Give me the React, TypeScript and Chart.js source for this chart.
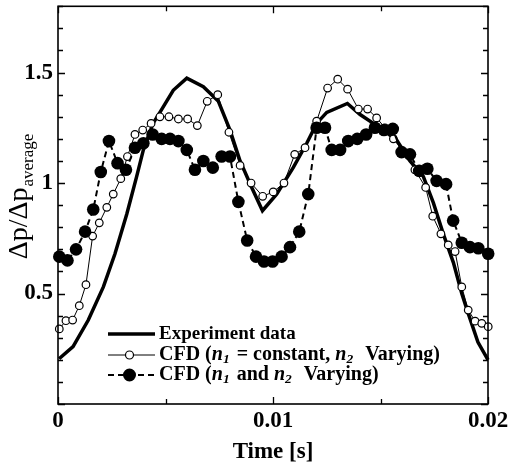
import React, { useEffect, useRef } from 'react';
import { Chart, registerables } from 'chart.js';

Chart.register(...registerables);

// ---- Data ----
const expTime = [0.00005, 0.0007, 0.00141, 0.00211, 0.00265, 0.0032, 0.00366, 0.00397, 0.00442, 0.00474, 0.00536, 0.00599, 0.00676, 0.00746, 0.008, 0.00847, 0.00901, 0.00951, 0.01017, 0.01094, 0.01157, 0.01203, 0.0125, 0.01346, 0.01405, 0.01498, 0.01575, 0.01637, 0.01699, 0.01746, 0.01792, 0.01839, 0.01878, 0.01908, 0.01953, 0.02];
const expValue = [0.205, 0.26, 0.38, 0.53, 0.68, 0.86, 1.03, 1.15, 1.27, 1.32, 1.42, 1.475, 1.436, 1.37, 1.24, 1.1, 0.98, 0.875, 0.95, 1.07, 1.18, 1.27, 1.32, 1.36, 1.31, 1.25, 1.195, 1.1, 1.03, 0.91, 0.77, 0.64, 0.5, 0.41, 0.28, 0.2];

const cfdConstTime = [0.00006, 0.00037, 0.00068, 0.00099, 0.0013, 0.00161, 0.00192, 0.00227, 0.00257, 0.00292, 0.00323, 0.00358, 0.00394, 0.00433, 0.00474, 0.00516, 0.0056, 0.00603, 0.00648, 0.00694, 0.00743, 0.00795, 0.00847, 0.00898, 0.00952, 0.01001, 0.01051, 0.01101, 0.01149, 0.01203, 0.01254, 0.01301, 0.01347, 0.01397, 0.0144, 0.01482, 0.01521, 0.0156, 0.01609, 0.0166, 0.0171, 0.01743, 0.01781, 0.01815, 0.01847, 0.01878, 0.01908, 0.0194, 0.01971, 0.02001];
const cfdConstValue = [0.34, 0.377, 0.38, 0.445, 0.54, 0.76, 0.82, 0.89, 0.95, 1.02, 1.12, 1.22, 1.24, 1.27, 1.3, 1.3, 1.29, 1.29, 1.26, 1.37, 1.4, 1.23, 1.08, 1.0, 0.94, 0.96, 1.0, 1.13, 1.16, 1.28, 1.43, 1.47, 1.425, 1.335, 1.335, 1.295, 1.25, 1.2, 1.14, 1.06, 0.98, 0.85, 0.77, 0.72, 0.69, 0.53, 0.425, 0.375, 0.365, 0.35];

const cfdVarTime = [0.00006, 0.00044, 0.00084, 0.00126, 0.00164, 0.00199, 0.00237, 0.00277, 0.00316, 0.00358, 0.00397, 0.0044, 0.00482, 0.00521, 0.0056, 0.00599, 0.00637, 0.00676, 0.0072, 0.00761, 0.008, 0.00839, 0.0088, 0.00921, 0.00958, 0.00998, 0.0104, 0.01079, 0.01122, 0.01164, 0.01203, 0.01242, 0.01273, 0.01312, 0.0135, 0.01392, 0.01433, 0.01474, 0.01516, 0.01557, 0.01598, 0.01637, 0.0168, 0.01718, 0.01761, 0.01805, 0.01838, 0.01878, 0.01916, 0.01955, 0.02001];
const cfdVarValue = [0.667, 0.65, 0.7, 0.78, 0.88, 1.05, 1.19, 1.09, 1.06, 1.16, 1.18, 1.22, 1.2, 1.2, 1.19, 1.15, 1.06, 1.1, 1.07, 1.12, 1.12, 0.915, 0.74, 0.667, 0.645, 0.645, 0.667, 0.71, 0.78, 0.95, 1.25, 1.25, 1.15, 1.15, 1.19, 1.2, 1.22, 1.25, 1.24, 1.245, 1.14, 1.13, 1.055, 1.065, 1.01, 0.995, 0.83, 0.73, 0.71, 0.705, 0.68];

const xTickLabels = ['0', '0.01', '0.02'];
const yTickLabels = ['0.5', '1', '1.5'];
const seriesLabels = ['Experiment data', 'CFD (n1 = constant, n2  Varying)', 'CFD (n1 and n2  Varying)'];
const xTitle = 'Time [s]';

const SERIF = '"Liberation Serif", "Times New Roman", serif';

const toPoints = (t: number[], v: number[]) => t.map((x, i) => ({ x, y: v[i] }));

const findLabel = (labels: string[], v: number) => {
  for (const l of labels) {
    if (Math.abs(parseFloat(l) - v) < 1e-7) return l;
  }
  return '';
};

type Seg = { t: string; italic?: boolean; sub?: boolean };

// rich-text legend rows built from series labels
const richLabel = (label: string): Seg[] => {
  const segs: Seg[] = [];
  const re = /n([12])/g;
  let last = 0;
  let m: RegExpExecArray | null;
  while ((m = re.exec(label)) !== null) {
    if (m.index > last) segs.push({ t: label.slice(last, m.index) });
    segs.push({ t: 'n', italic: true });
    segs.push({ t: m[1], italic: true, sub: true });
    last = m.index + m[0].length;
  }
  if (last < label.length) segs.push({ t: label.slice(last) });
  return segs;
};

const framePlugin = {
  id: 'framePlugin',
  afterDatasetsDraw(chart: any) {
    const { ctx, chartArea } = chart;
    const { left, right, top, bottom } = chartArea;
    const xs = chart.scales.x;
    const ys = chart.scales.y;
    ctx.save();
    ctx.strokeStyle = '#000';
    ctx.lineWidth = 1.6;
    ctx.strokeRect(left, top, right - left, bottom - top);
    ctx.lineWidth = 1.3;
    // y ticks (inward, both sides)
    for (let i = 0; i <= 18; i++) {
      const v = i / 10;
      const py = Math.round(ys.getPixelForValue(v)) + 0.5;
      const major = i % 5 === 0;
      const len = major ? 7 : 5;
      ctx.beginPath();
      ctx.moveTo(left, py);
      ctx.lineTo(left + len, py);
      ctx.moveTo(right, py);
      ctx.lineTo(right - len, py);
      ctx.stroke();
    }
    for (let i = 0; i <= 4; i++) {
      const v = i * 0.005;
      const px = Math.round(xs.getPixelForValue(v)) + 0.5;
      const major = i % 2 === 0;
      const len = major ? 7 : 5;
      ctx.beginPath();
      ctx.moveTo(px, bottom);
      ctx.lineTo(px, bottom - len);
      ctx.moveTo(px, top);
      ctx.lineTo(px, top + len);
      ctx.stroke();
    }
    ctx.restore();
  },
  afterDraw(chart: any) {
    const { ctx } = chart;
    ctx.save();
    // y axis title with subscript
    ctx.fillStyle = '#000';
    ctx.translate(27, 197);
    ctx.rotate(-Math.PI / 2);
    const mainFont = `28px ${SERIF}`;
    const subFont = `17px ${SERIF}`;
    ctx.font = mainFont;
    const mainText = '\u0394p/\u0394p';
    const wm = ctx.measureText(mainText).width;
    ctx.font = subFont;
    const subText = 'average';
    const ws = ctx.measureText(subText).width;
    const start = -(wm + ws) / 2;
    ctx.textBaseline = 'alphabetic';
    ctx.font = mainFont;
    ctx.fillText(mainText, start, 0);
    ctx.font = subFont;
    ctx.fillText(subText, start + wm + 1, 6);
    ctx.restore();

    // legend
    ctx.save();
    const rows = [334, 355, 375];
    const lx1 = 108;
    const lx2 = 155;
    const tx = 159;
    chart.data.datasets.forEach((ds: any, i: number) => {
      const y = rows[i];
      ctx.strokeStyle = '#000';
      ctx.lineWidth = ds.borderWidth;
      ctx.setLineDash(ds.borderDash || []);
      ctx.beginPath();
      ctx.moveTo(lx1, y);
      ctx.lineTo(lx2, y);
      ctx.stroke();
      ctx.setLineDash([]);
      if (ds.pointRadius > 0) {
        ctx.beginPath();
        const r = i === 1 ? 4 : 5.5;
        ctx.arc((lx1 + lx2) / 2 - 2, y, r, 0, Math.PI * 2);
        ctx.fillStyle = ds.pointBackgroundColor;
        ctx.fill();
        ctx.lineWidth = ds.pointBorderWidth;
        ctx.strokeStyle = '#000';
        ctx.stroke();
      }
      let x = tx;
      ctx.fillStyle = '#000';
      ctx.textBaseline = 'middle';
      for (const seg of richLabel(ds.label)) {
        const size = seg.sub ? 13.5 : i === 0 ? 19 : 20;
        ctx.font = `${seg.italic ? 'italic ' : ''}bold ${size}px ${SERIF}`;
        ctx.fillText(seg.t, x, y + (seg.sub ? 5 : 0));
        x += ctx.measureText(seg.t).width + (seg.sub ? 2 : 0);
      }
    });
    ctx.restore();
  },
};

export default function App() {
  const ref = useRef<HTMLCanvasElement | null>(null);
  useEffect(() => {
    if (!ref.current) return;
    const chart = new Chart(ref.current, {
      type: 'scatter',
      data: {
        datasets: [
          {
            label: seriesLabels[0],
            data: toPoints(expTime, expValue),
            showLine: true,
            borderColor: '#000',
            borderWidth: 3.5,
            pointRadius: 0,
            pointBorderWidth: 0,
            pointBackgroundColor: '#000',
            tension: 0,
            order: 2,
            clip: false,
          } as any,
          {
            label: seriesLabels[1],
            data: toPoints(cfdConstTime, cfdConstValue),
            showLine: true,
            borderColor: '#000',
            borderWidth: 1,
            pointRadius: 3.8,
            pointBorderWidth: 1.2,
            pointBorderColor: '#000',
            pointBackgroundColor: '#fff',
            tension: 0,
            order: 1,
            clip: false,
          },
          {
            label: seriesLabels[2],
            data: toPoints(cfdVarTime, cfdVarValue),
            showLine: true,
            borderColor: '#000',
            borderWidth: 2,
            borderDash: [6, 4],
            pointRadius: 6.3,
            pointBorderWidth: 0,
            pointBorderColor: '#000',
            pointBackgroundColor: '#000',
            tension: 0,
            order: 0,
            clip: false,
          },
        ],
      },
      options: {
        responsive: false,
        animation: false,
        layout: { padding: { left: 0, top: 6, right: 24, bottom: 0 } },
        plugins: {
          legend: { display: false },
          tooltip: { enabled: false },
        },
        scales: {
          x: {
            type: 'linear',
            min: 0,
            max: 0.02,
            grid: { display: false, drawTicks: false },
            border: { display: false },
            ticks: {
              stepSize: 0.005,
              autoSkip: false,
              maxRotation: 0,
              padding: 3,
              color: '#000',
              font: { family: SERIF, size: 23, weight: 'bold' },
              callback: (v: any) => findLabel(xTickLabels, Number(v)),
            },
            title: {
              display: true,
              text: xTitle,
              color: '#000',
              padding: { top: 0, bottom: 0 },
              font: { family: SERIF, size: 23, weight: 'bold' },
            },
            afterFit: (s: any) => {
              s.height = 62;
              s.paddingLeft = 0;
              s.paddingRight = 0;
            },
          },
          y: {
            type: 'linear',
            min: 0,
            max: 1.8,
            grid: { display: false, drawTicks: false },
            border: { display: false },
            ticks: {
              stepSize: 0.1,
              autoSkip: false,
              padding: 5,
              color: '#000',
              font: { family: SERIF, size: 23, weight: 'bold' },
              callback: (v: any) => findLabel(yTickLabels, Number(v)),
            },
            afterFit: (s: any) => {
              s.width = 58;
              s.paddingTop = 0;
              s.paddingBottom = 0;
            },
          },
        },
      },
      plugins: [framePlugin],
    });
    return () => chart.destroy();
  }, []);
  return (
    <div style={{ position: 'fixed', left: 0, top: 0, width: 512, height: 466, background: '#fff' }}>
      <canvas ref={ref} width={512} height={466} style={{ display: 'block' }} />
    </div>
  );
}
